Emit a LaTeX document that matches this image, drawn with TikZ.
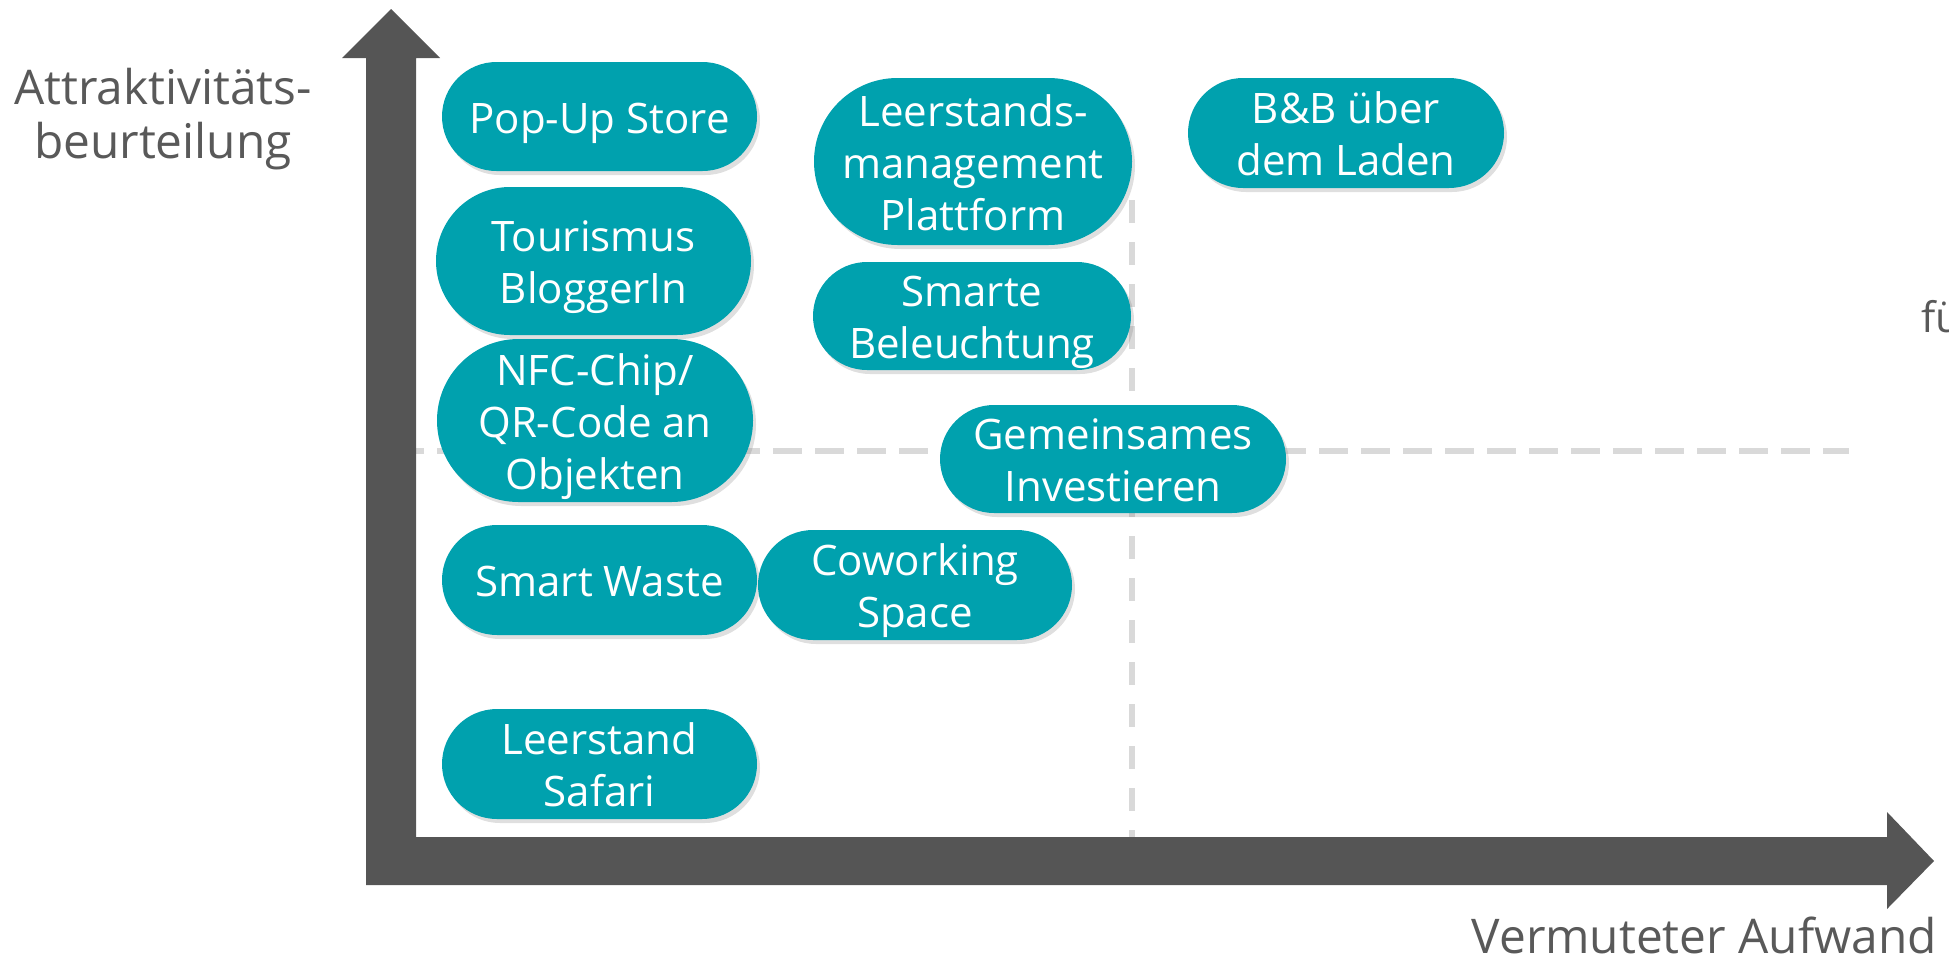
\documentclass[tikz,border=0pt]{standalone}
\usepackage{fontspec}
\setmainfont{Open Sans}
\usetikzlibrary{shadows}
\definecolor{bubblecol}{RGB}{0,161,174}
\definecolor{axisgray}{RGB}{85,85,85}
\definecolor{labelgray}{RGB}{89,89,89}
\definecolor{guidegray}{RGB}{217,217,217}
\newcommand\bubtop{\rule{0pt}{44pt}}
\newcommand\bubbot{\rule[-11pt]{0pt}{11pt}}
\newcommand\labtop{\rule{0pt}{38pt}}
\newcommand\labbot{\rule[-12pt]{0pt}{12pt}}
\begin{document}
\begin{tikzpicture}[x=1pt,y=-1pt,
  bubble/.style={rectangle, fill=bubblecol, text=white, align=center,
    inner sep=0pt, font=\fontsize{42}{52}\selectfont,
    drop shadow={shadow xshift=3pt,shadow yshift=-4pt,opacity=0.25}},
  pill/.style n args={3}{minimum width=#1, minimum height=#2, rounded corners=#3},
  axislabel/.style={text=labelgray, font=\fontsize{47.8}{54}\selectfont, inner sep=0pt, align=center},
  guide/.style={draw=guidegray, line width=6pt}]
\useasboundingbox (0,0) rectangle (1949,959);
\clip (0,0) rectangle (1949,959);
% guide lines
\draw[guide, dash pattern=on 29pt off 13pt, dash phase=21pt] (416,451) -- (1849,451);
\draw[guide, dash pattern=on 23pt off 19pt] (1132,200) -- (1132,837);
% axes
\fill[axisgray] (366,58) -- (342,58) -- (391,9) -- (440,58) -- (416,58) -- (416,837)
  -- (1887,837) -- (1887,812) -- (1934,861) -- (1887,909) -- (1887,885) -- (366,885) -- cycle;
% bubbles
\node[bubble, pill={315pt}{109pt}{54.5pt}] (pop) at (599.5,116.5) {\bubtop Pop-Up Store\bubbot};
\node[bubble, pill={315pt}{148pt}{74pt}] (tour) at (593.5,261) {\bubtop Tourismus\\BloggerIn\bubbot};
\node[bubble, pill={316pt}{163pt}{81.5pt}] (nfc) at (595,420.5) {\bubtop NFC-Chip/\\QR-Code an\\Objekten\bubbot};
\node[bubble, pill={315pt}{110pt}{55pt}] (waste) at (599.5,580) {\bubtop Smart Waste\bubbot};
\node[bubble, pill={315pt}{110pt}{55pt}] (safari) at (599.5,764) {\bubtop Leerstand\\Safari\bubbot};
\node[bubble, pill={318pt}{167pt}{83.5pt}] (leer) at (973,161.5) {\bubtop Leerstands-\\management\\Plattform\bubbot};
\node[bubble, pill={318pt}{108pt}{54pt}] (smart) at (972,316) {\bubtop Smarte\\Beleuchtung\bubbot};
\node[bubble, pill={346pt}{108pt}{54pt}] (gem) at (1113,459) {\bubtop Gemeinsames\\Investieren\bubbot};
\node[bubble, pill={314pt}{110pt}{55pt}] (cowork) at (915,585) {\bubtop Coworking\\Space\bubbot};
\node[bubble, pill={316pt}{110pt}{55pt}] (bb) at (1346,133) {\bubtop B\&B über\\dem Laden\bubbot};
% labels
\node[axislabel] (ylabel) at (163,118.5) {\labtop Attraktivitäts-\\beurteilung\labbot};
\node[axislabel, anchor=base east] (xlabel) at (1937,953) {Vermuteter Aufwand};
\node[text=labelgray, font=\fontsize{42}{52}\selectfont, inner sep=0pt, anchor=base west] (cut) at (1921,332) {fü};
\end{tikzpicture}
\end{document}
